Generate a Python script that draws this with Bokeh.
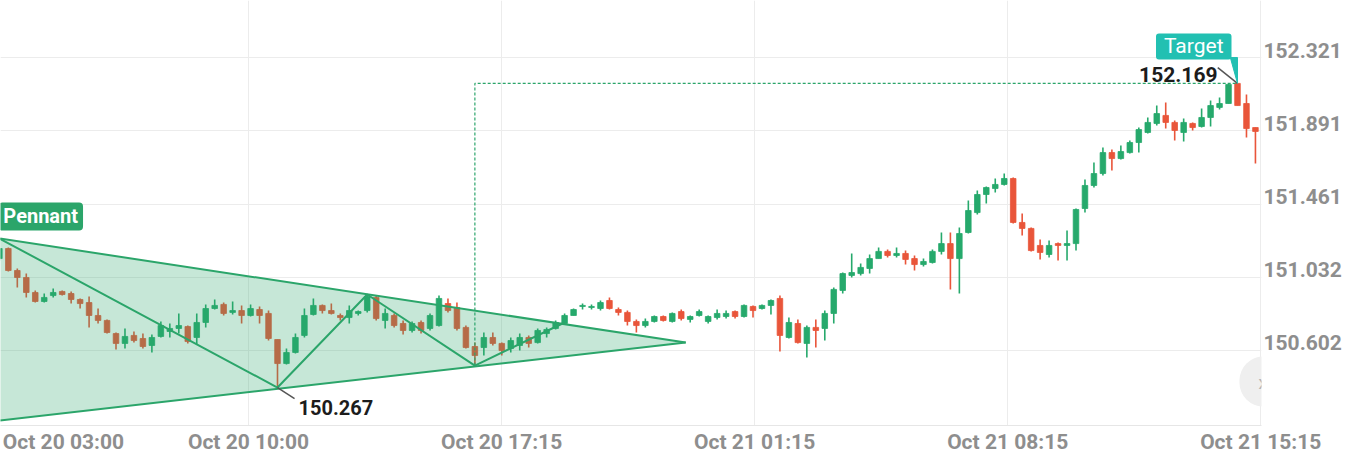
from bokeh.plotting import figure
from bokeh.models import ColumnDataSource, FixedTicker, CustomJSTickFormatter, Range1d, Label
from bokeh.embed import file_html
from bokeh.resources import INLINE

# ---------------- data ----------------
opens = [
    151.141, 151.200, 151.071, 151.030, 150.942, 150.889, 150.924, 150.948, 150.936, 150.901,
    150.883, 150.807, 150.778, 150.701, 150.643, 150.690, 150.672, 150.631, 150.684, 150.713,
    150.731, 150.742, 150.678, 150.766, 150.848, 150.872, 150.825, 150.836, 150.807, 150.842,
    150.819, 150.666, 150.525, 150.590, 150.690, 150.813, 150.866, 150.836, 150.807, 150.795,
    150.819, 150.836, 150.913, 150.778, 150.807, 150.760, 150.719, 150.766, 150.731, 150.748,
    150.877, 150.854, 150.737, 150.625, 150.619, 150.678, 150.643, 150.613, 150.631, 150.678,
    150.648, 150.701, 150.731, 150.760, 150.807, 150.860, 150.854, 150.848, 150.895, 150.842,
    150.825, 150.772, 150.748, 150.772, 150.801, 150.772, 150.830, 150.784, 150.807, 150.772,
    150.795, 150.801, 150.830, 150.801, 150.860, 150.848, 150.866, 150.907, 150.678, 150.760,
    150.643, 150.737, 150.731, 150.819, 150.954, 151.042, 151.053, 151.083, 151.141, 151.183,
    151.159, 151.171, 151.141, 151.106, 151.118, 151.183, 151.229, 151.141, 151.294, 151.411,
    151.517, 151.552, 151.576, 151.611, 151.353, 151.318, 151.218, 151.165, 151.229, 151.218,
    151.229, 151.435, 151.570, 151.640, 151.763, 151.728, 151.763, 151.822, 151.881, 151.934,
    151.981, 151.940, 151.881, 151.934, 151.916, 151.969, 152.028, 152.051, 152.169, 152.051,
    151.910,
]
highs = [
    151.259, 151.206, 151.083, 151.053, 150.954, 150.936, 150.965, 150.954, 150.948, 150.907,
    150.918, 150.848, 150.784, 150.707, 150.731, 150.713, 150.701, 150.695, 150.772, 150.760,
    150.819, 150.748, 150.819, 150.872, 150.901, 150.883, 150.889, 150.866, 150.872, 150.860,
    150.836, 150.666, 150.613, 150.701, 150.848, 150.907, 150.872, 150.877, 150.819, 150.866,
    150.836, 150.930, 150.924, 150.848, 150.819, 150.778, 150.772, 150.778, 150.819, 150.924,
    150.907, 150.883, 150.748, 150.648, 150.707, 150.707, 150.648, 150.678, 150.701, 150.690,
    150.731, 150.737, 150.778, 150.819, 150.848, 150.877, 150.872, 150.895, 150.913, 150.854,
    150.836, 150.784, 150.789, 150.807, 150.807, 150.825, 150.842, 150.807, 150.842, 150.807,
    150.842, 150.836, 150.836, 150.872, 150.866, 150.872, 150.901, 150.924, 150.795, 150.784,
    150.748, 150.784, 150.836, 150.971, 151.059, 151.171, 151.112, 151.165, 151.206, 151.194,
    151.206, 151.188, 151.159, 151.141, 151.194, 151.294, 151.294, 151.323, 151.482, 151.541,
    151.564, 151.611, 151.640, 151.617, 151.406, 151.323, 151.253, 151.247, 151.235, 151.306,
    151.435, 151.605, 151.705, 151.793, 151.781, 151.805, 151.834, 151.910, 151.969, 152.039,
    152.057, 151.951, 151.963, 151.940, 152.022, 152.069, 152.086, 152.165, 152.169, 152.104,
    151.910,
]
lows = [
    151.130, 151.065, 150.971, 150.913, 150.883, 150.883, 150.913, 150.924, 150.877, 150.848,
    150.737, 150.760, 150.701, 150.607, 150.613, 150.648, 150.613, 150.590, 150.678, 150.678,
    150.701, 150.643, 150.637, 150.737, 150.842, 150.807, 150.813, 150.760, 150.801, 150.760,
    150.660, 150.384, 150.519, 150.584, 150.678, 150.807, 150.819, 150.813, 150.778, 150.760,
    150.807, 150.825, 150.778, 150.731, 150.737, 150.695, 150.707, 150.701, 150.719, 150.742,
    150.825, 150.719, 150.613, 150.513, 150.572, 150.631, 150.572, 150.590, 150.601, 150.619,
    150.643, 150.678, 150.725, 150.760, 150.807, 150.842, 150.842, 150.836, 150.842, 150.807,
    150.748, 150.707, 150.737, 150.766, 150.772, 150.766, 150.778, 150.766, 150.801, 150.760,
    150.784, 150.789, 150.789, 150.795, 150.795, 150.842, 150.813, 150.596, 150.672, 150.643,
    150.560, 150.619, 150.660, 150.760, 150.936, 151.030, 151.042, 151.053, 151.141, 151.147,
    151.147, 151.106, 151.071, 151.095, 151.112, 151.165, 150.960, 150.936, 151.288, 151.400,
    151.464, 151.529, 151.570, 151.347, 151.276, 151.183, 151.136, 151.147, 151.130, 151.130,
    151.188, 151.411, 151.558, 151.629, 151.658, 151.722, 151.758, 151.763, 151.875, 151.922,
    151.904, 151.834, 151.828, 151.893, 151.910, 151.916, 152.016, 152.051, 152.039, 151.852,
    151.699,
]
closes = [
    151.200, 151.071, 151.030, 150.942, 150.889, 150.913, 150.942, 150.930, 150.901, 150.877,
    150.807, 150.778, 150.707, 150.643, 150.684, 150.660, 150.625, 150.678, 150.748, 150.731,
    150.748, 150.654, 150.766, 150.848, 150.866, 150.819, 150.836, 150.807, 150.848, 150.807,
    150.672, 150.525, 150.590, 150.678, 150.807, 150.866, 150.836, 150.819, 150.795, 150.836,
    150.830, 150.918, 150.789, 150.819, 150.748, 150.719, 150.760, 150.719, 150.807, 150.907,
    150.836, 150.731, 150.619, 150.572, 150.678, 150.643, 150.601, 150.660, 150.678, 150.643,
    150.719, 150.725, 150.766, 150.807, 150.842, 150.866, 150.860, 150.883, 150.848, 150.825,
    150.772, 150.748, 150.772, 150.801, 150.778, 150.819, 150.789, 150.801, 150.830, 150.801,
    150.819, 150.819, 150.801, 150.866, 150.836, 150.866, 150.895, 150.690, 150.766, 150.648,
    150.737, 150.719, 150.819, 150.960, 151.053, 151.059, 151.089, 151.141, 151.183, 151.159,
    151.171, 151.136, 151.106, 151.124, 151.183, 151.229, 151.141, 151.288, 151.423, 151.517,
    151.558, 151.576, 151.611, 151.353, 151.318, 151.188, 151.177, 151.218, 151.218, 151.229,
    151.429, 151.570, 151.640, 151.763, 151.728, 151.769, 151.822, 151.898, 151.940, 151.992,
    151.940, 151.893, 151.940, 151.910, 151.969, 152.039, 152.051, 152.163, 152.039, 151.904,
    151.887,
]

y_ticks = [150.602, 151.032, 151.461, 151.891, 152.321]
x_tick_pos = [7.14, 27.77, 55.98, 84.18, 112.39, 140.59]
x_tick_labels = ["Oct 20 03:00", "Oct 20 10:00", "Oct 20 17:15",
                 "Oct 21 01:15", "Oct 21 08:15", "Oct 21 15:15"]

# pennant pattern (bar index, price)
zig_x = [0, 31, 41, 53, 63]
zig_y = [151.259, 150.384, 150.930, 150.513, 150.766]
upper_x = [0, 76.5]
upper_y = [151.259, 150.648]
lower_x = [0, 76.5]
lower_y = [150.191, 150.648]
pennant_name = "Pennant"
low_label = "150.267"
target_name = "Target"
target_x = 138
target_price = 152.169
breakout_x = 53
breakout_price = 150.513

GREEN = "#26a96c"
RED = "#e9553a"
PAT = "#2ba56a"
TEAL = "#22c0b2"
AXIS_TXT = "#8e8e8e"

# ---------------- figure ----------------
p = figure(frame_width=1261, frame_height=425,
           x_range=Range1d(0.126, 140.675), y_range=Range1d(150.1614, 152.6555),
           y_axis_location="right", output_backend="svg", toolbar_location=None,
           min_border=0, min_border_left=0, min_border_top=0)
p.outline_line_color = None
p.background_fill_color = "white"
p.border_fill_color = "white"

idx = list(range(len(opens)))
colors = [GREEN if c >= o else RED for o, c in zip(opens, closes)]
tops = [max(o, c) for o, c in zip(opens, closes)]
bots = [min(o, c) for o, c in zip(opens, closes)]
src = ColumnDataSource(dict(x=idx, h=highs, l=lows, t=tops, b=bots, c=colors))
p.segment(x0="x", y0="l", x1="x", y1="h", color="c", line_width=1.6, source=src)
p.vbar(x="x", width=0.62, top="t", bottom="b", fill_color="c", line_color="c",
       line_width=0.8, source=src)

# pennant fill (drawn over candles)
p.patch([upper_x[0], upper_x[1], lower_x[0]], [upper_y[0], upper_y[1], lower_y[0]],
        fill_color=PAT, fill_alpha=0.27, line_color=None)
p.line(upper_x, upper_y, line_color=PAT, line_width=2)
p.line(lower_x, lower_y, line_color=PAT, line_width=2)
p.line(zig_x, zig_y, line_color=PAT, line_width=2)

# breakout projection
p.line([breakout_x, breakout_x, target_x], [breakout_price, target_price, target_price],
       line_color=PAT, line_width=1.2, line_dash="3 2")

# leader lines
p.line([31, 31 + 1.9], [zig_y[1], zig_y[1] - 0.065], line_color="#555555", line_width=1.5)
p.line([target_x - 2.2, target_x], [target_price + 0.093, target_price],
       line_color="#555555", line_width=1.5)
p.patch([target_x - 0.8, target_x, target_x], [152.321, 152.321, target_price],
        fill_color=TEAL, line_color=TEAL, line_width=1)

# axes
p.yaxis.ticker = FixedTicker(ticks=[t + 0.044 for t in y_ticks])
p.yaxis.formatter = CustomJSTickFormatter(code="return (tick - 0.044).toFixed(3);")
p.ygrid.ticker = FixedTicker(ticks=y_ticks)
p.yaxis.axis_line_color = None
p.yaxis.major_tick_line_color = None
p.yaxis.minor_tick_line_color = None
p.yaxis.major_tick_out = 0
p.yaxis.major_tick_in = 0
p.yaxis.minor_tick_out = 0
p.yaxis.major_label_standoff = 2
p.yaxis.major_label_text_font = "Roboto"
p.yaxis.major_label_text_font_size = "21px"
p.yaxis.major_label_text_font_style = "bold"
p.yaxis.major_label_text_color = AXIS_TXT

p.xaxis.ticker = FixedTicker(ticks=x_tick_pos)
p.xaxis.formatter = CustomJSTickFormatter(args=dict(pos=x_tick_pos, labels=x_tick_labels), code="""
let best = 0, bd = 1e9;
for (let i = 0; i < pos.length; i++) { const d = Math.abs(pos[i] - tick); if (d < bd) { bd = d; best = i; } }
return labels[best];
""")
p.xgrid.ticker = FixedTicker(ticks=x_tick_pos[1:])
p.xaxis.axis_line_color = "#e6e6e6"
p.xaxis.major_tick_line_color = None
p.xaxis.minor_tick_line_color = None
p.xaxis.major_tick_out = 0
p.xaxis.major_tick_in = 0
p.xaxis.minor_tick_out = 0
p.xaxis.major_label_standoff = 4
p.xaxis.major_label_text_font = "Roboto"
p.xaxis.major_label_text_font_size = "21px"
p.xaxis.major_label_text_font_style = "bold"
p.xaxis.major_label_text_color = AXIS_TXT

p.xgrid.grid_line_color = "#ececec"
p.ygrid.grid_line_color = "#ececec"

# labels
p.add_layout(Label(x=zig_x[0], y=zig_y[0], text=pennant_name, x_offset=-1, y_offset=22,
                   text_font="Roboto", text_font_size="20px", text_font_style="bold",
                   text_color="white", text_baseline="middle", text_align="left",
                   background_fill_color=PAT, padding=(5, 2), border_radius=4))
p.add_layout(Label(x=zig_x[1], y=zig_y[1], text=low_label, x_offset=21, y_offset=-20,
                   text_font="Roboto", text_font_size="20px", text_font_style="bold",
                   text_color="#1c1c1c", text_baseline="middle", text_align="left"))
p.add_layout(Label(x=target_x, y=target_price, text=str(target_price), x_offset=-20, y_offset=9,
                   text_font="Roboto", text_font_size="21px", text_font_style="bold",
                   text_color="#1c1c1c", text_baseline="middle", text_align="right"))
p.add_layout(Label(x=target_x, y=target_price, text=target_name, x_offset=-6, y_offset=37,
                   text_font="Roboto", text_font_size="21px",
                   text_color="white", text_baseline="middle", text_align="right",
                   background_fill_color=TEAL, padding=(8, 1), border_radius=3))
p.add_layout(Label(x=140.9, y=150.4196, text="»", x_offset=0, y_offset=0, level="overlay",
                   text_font="Roboto", text_font_size="26px",
                   text_color="#b5b5b5", text_baseline="middle", text_align="center",
                   background_fill_color="#efefef", padding=(18, 10), border_radius=25))

open("out.html", "w").write(file_html(p, INLINE))
